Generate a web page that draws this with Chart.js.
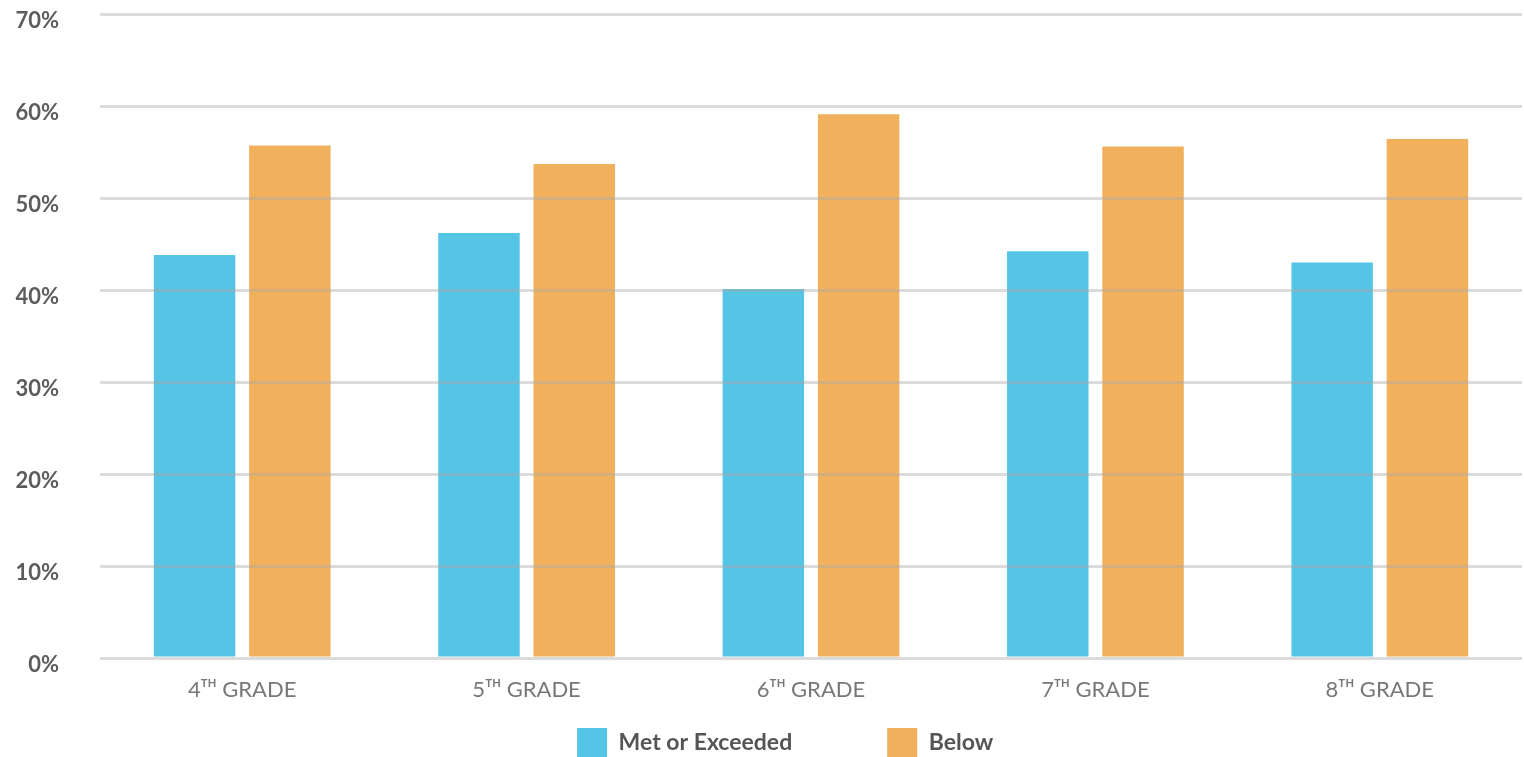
<!DOCTYPE html>
<html>
<head>
<meta charset="utf-8">
<script src="https://cdn.jsdelivr.net/npm/chart.js@4.4.1/dist/chart.umd.min.js"></script>
<style>
  html, body { margin: 0; padding: 0; background: #fff; }
  #wrap { width: 1524px; height: 757px; }
</style>
</head>
<body>
<div id="wrap"><canvas id="grades"></canvas></div>
<script>
const grades = ['4ᵀᴴ GRADE', '5ᵀᴴ GRADE', '6ᵀᴴ GRADE', '7ᵀᴴ GRADE', '8ᵀᴴ GRADE'];
const metOrExceeded = [43.8, 46.2, 40.1, 44.2, 43.0];
const below = [55.7, 53.7, 59.1, 55.6, 56.4];
const yTicks = [0, 10, 20, 30, 40, 50, 60, 70];

// legend sits tight under the axis labels, so pin its height
const legendHeight = {
    id: 'legendHeight',
    beforeInit(chart) {
        const fit = chart.legend.fit;
        chart.legend.fit = function () {
            fit.call(this);
            this.height = 55;
        };
    }
};

const ctx = document.getElementById('grades').getContext('2d');

new Chart(ctx, {
    type: 'bar',
    data: {
        labels: grades,
        datasets: [
            {
                label: 'Met or Exceeded',
                data: metOrExceeded,
                backgroundColor: '#54c5e4',
                categoryPercentage: 0.67,
                barPercentage: 0.855,
            },
            {
                label: 'Below',
                data: below,
                backgroundColor: '#f1b05c',
                categoryPercentage: 0.67,
                barPercentage: 0.855,
            },
        ]
    },
    options: {
        responsive: true,
        maintainAspectRatio: false,
        devicePixelRatio: 1,
        animation: false,
        layout: {
            padding: { left: 0, right: 2, top: 14, bottom: 0 }
        },
        scales: {
            x: {
                afterFit: axis => {
                    axis.height = 44;
                },
                grid: { display: false, drawTicks: false },
                border: { display: false },
                ticks: {
                    padding: 19,
                    color: '#777',
                    font: { family: 'Lato', size: 22 },
                }
            },
            y: {
                min: 0,
                max: 70,
                afterBuildTicks: axis => {
                    axis.ticks = yTicks.map(v => ({ value: v }));
                },
                afterFit: axis => {
                    axis.width = 100;
                },
                grid: {
                    color: 'rgba(170, 170, 170, 0.42)',
                    lineWidth: 3,
                    tickLength: 41,
                    tickColor: 'rgba(0, 0, 0, 0)',
                    z: 1,
                },
                border: { display: false },
                ticks: {
                    padding: 0,
                    labelOffset: 7,
                    color: '#5c5c5c',
                    font: { family: 'Lato', size: 22, weight: 'bold' },
                    callback: v => v + '%',
                }
            }
        },
        plugins: {
            legend: {
                position: 'bottom',
                fullSize: false,
                labels: {
                    boxWidth: 30,
                    boxHeight: 30,
                    padding: 26,
                    color: '#555',
                    font: { family: 'Lato', size: 23, weight: 'bold' },
                    // spread the two keys apart and nudge the pair left
                    generateLabels: chart => {
                        const items = Chart.defaults.plugins.legend.labels.generateLabels(chart);
                        items[0].text += '\u2003\u2003\u2003\u2003';
                        items[1].text += '\u2003\u2003\u2003';
                        return items;
                    }
                }
            },
            tooltip: { enabled: false }
        }
    },
    plugins: [legendHeight]
});
</script>
</body>
</html>
